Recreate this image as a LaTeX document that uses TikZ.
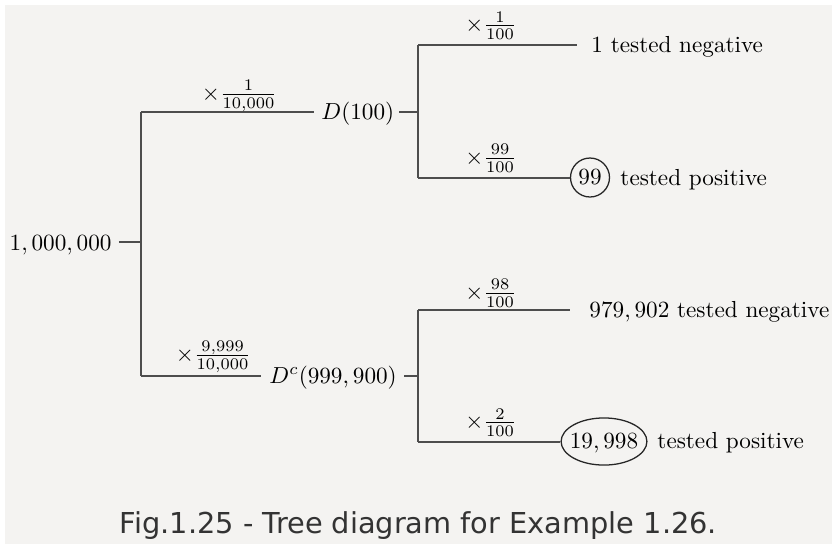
\documentclass[tikz,border=0pt]{standalone}
\usepackage{fontspec}
\newfontfamily\capfont{DejaVu Sans}
\usetikzlibrary{shapes.geometric}
\definecolor{bgc}{HTML}{F4F3F1}
\definecolor{lnc}{HTML}{4D4D4D}
\definecolor{capc}{HTML}{333333}
\begin{document}
\begin{tikzpicture}[x=0.431pt,y=-0.431pt,
  branch/.style={draw=lnc,line width=0.86pt},
  txt/.style={inner sep=0pt,anchor=base west,text=black},
  lab/.style={inner sep=0pt,anchor=base,text=black},
  ring/.style={draw=black!85,line width=0.55pt,inner sep=0pt}]
\useasboundingbox (0,0) rectangle (832,544);
\fill[bgc] (5,5) rectangle (832,544);
% level 0
\node[txt,anchor=base east] (root) at (112,250) {$1,000,000$};
\coordinate (j1) at (141,242);
\coordinate (a1) at (141,112);
\coordinate (b1) at (141,376);
% level 1
\node[txt] (D) at (321,119) {$D(100)$};
\node[txt] (Dc) at (269,383) {$D^c(999,900)$};
\coordinate (j2) at (418,112);
\coordinate (j3) at (418,376);
\draw[branch] ([xshift=3pt]root.east |- j1) -- (j1);
\draw[branch] (a1) -- (b1);
\draw[branch] (a1) -- ([xshift=-3pt]D.west |- a1);
\draw[branch] ([xshift=2pt]D.east |- j2) -- (j2);
\draw[branch] (b1) -- ([xshift=-3.5pt]Dc.west |- b1);
\draw[branch] ([xshift=3pt]Dc.east |- j3) -- (j3);
\node[lab] (l1) at (239.5,100) {$\times\frac{1}{10,000}$};
\node[lab] (l4) at (213.5,361.5) {$\times\frac{9,999}{10,000}$};
% upper right
\coordinate (u1) at (418,45);
\coordinate (u2) at (418,177.5);
\coordinate (n1end) at (577,45);
\draw[branch] (u1) -- (u2);
\draw[branch] (u1) -- (n1end);
\node[txt] (n1) at (591,52) {1 tested negative};
\node[ring,circle,minimum size=16.8pt,text depth=0pt] (c99) at (590,177.5) {$99$};
\draw[branch] (u2) -- (c99.west);
\node[txt] (p1) at (620,185) {tested positive};
\node[lab] (l2) at (491,31.5) {$\times\frac{1}{100}$};
\node[lab] (l3) at (491,164) {$\times\frac{99}{100}$};
% lower right
\coordinate (v1) at (418,310);
\coordinate (v2) at (418,441.5);
\coordinate (n2end) at (570,310);
\draw[branch] (v1) -- (v2);
\draw[branch] (v1) -- (n2end);
\node[txt] (n2) at (589,317) {$979,902$ tested negative};
\node[ring,ellipse,minimum width=37pt,minimum height=20.3pt] (e) at (604,441.5) {};
\node[inner sep=0pt,text depth=0pt] (enum) at (e.center) {$19,998$};
\draw[branch] (v2) -- (e.west);
\node[txt] (p2) at (657,448) {tested positive};
\node[lab] (l5) at (491,299) {$\times\frac{98}{100}$};
\node[lab] (l6) at (491,428.5) {$\times\frac{2}{100}$};
% caption
\node[anchor=base,inner sep=0pt,text=capc,font=\capfont\fontsize{12.42}{14}\selectfont] (cap) at (418.5,533) {Fig.1.25 - Tree diagram for Example 1.26.};
\end{tikzpicture}
\end{document}
